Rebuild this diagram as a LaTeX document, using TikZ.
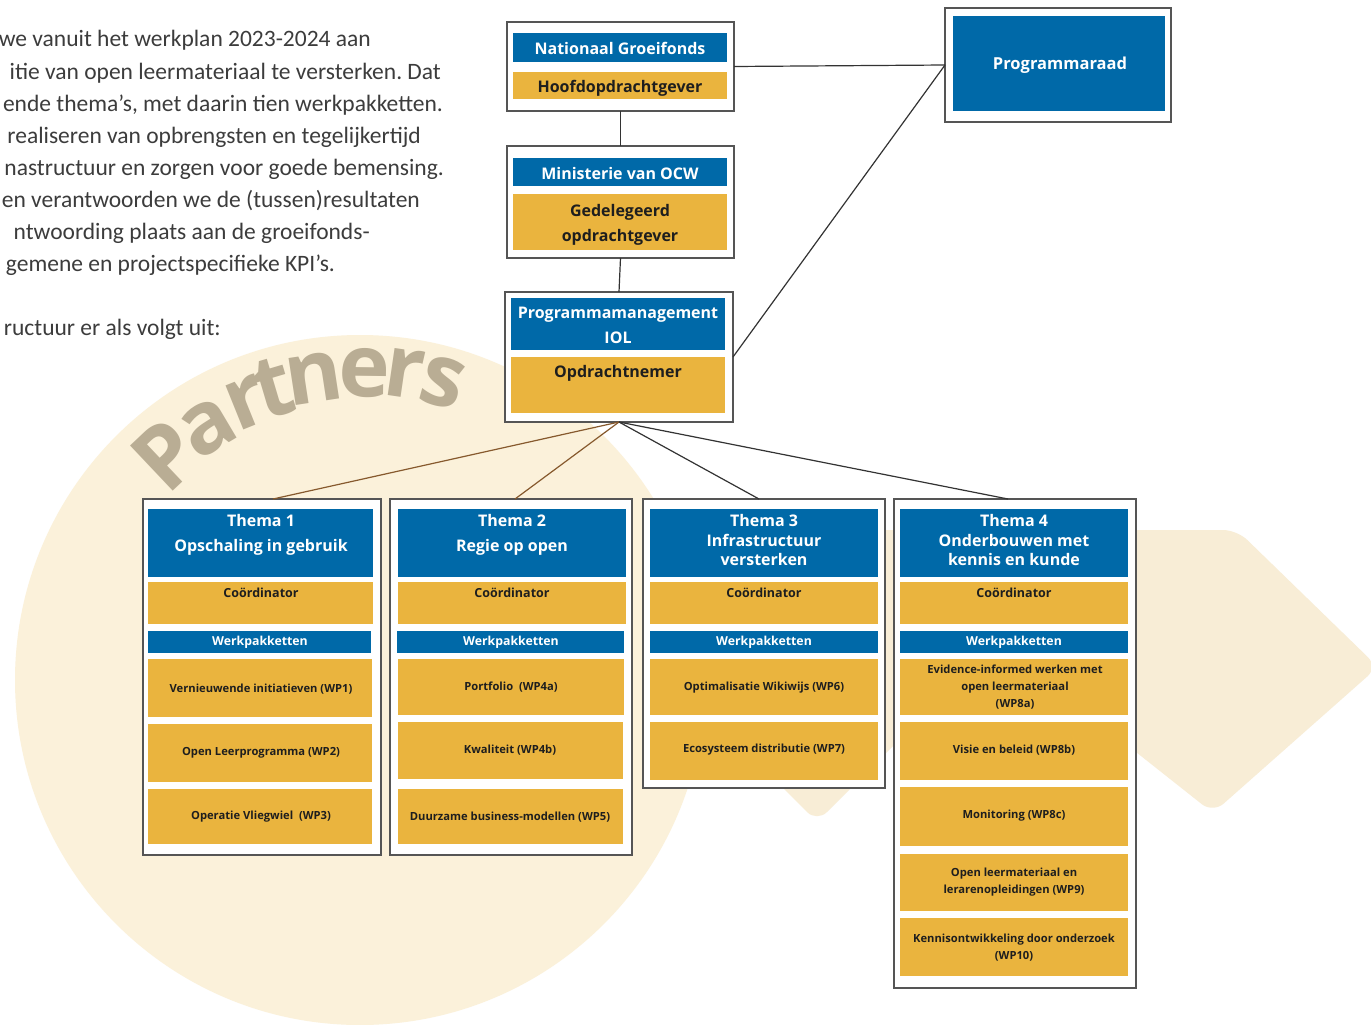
\documentclass[tikz,border=0pt]{standalone}
\usepackage{fontspec}
\setmainfont{Open Sans}
\newfontfamily\bodyfont{Carlito}
\frenchspacing
\usetikzlibrary{calc}
\definecolor{iolblue}{HTML}{0069A8}
\definecolor{iolgold}{HTML}{EAB43E}
\definecolor{cream}{HTML}{FBF1DA}
\definecolor{creamarrow}{HTML}{F8EDD6}
\definecolor{partnerc}{HTML}{B9AD94}
\definecolor{bodytext}{HTML}{3C3C3C}
\definecolor{framec}{HTML}{555555}
\definecolor{labelc}{HTML}{1E1E1E}
\newcommand\rect[6]{\node[#2, anchor=north west, minimum width={(#5)-(#3)}, minimum height={(#6)-(#4)}] (#1) at (#3,#4) {};}
\tikzset{
  framebox/.style={draw=framec, line width=1.4pt, fill=white, inner sep=0pt, outer sep=0pt},
  bluebox/.style={fill=iolblue, inner sep=0pt, outer sep=0pt},
  goldbox/.style={fill=iolgold, inner sep=0pt, outer sep=0pt},
  lbl/.style={inner sep=0pt, align=center},
  wtop/.style={lbl, text=white, font=\bfseries\fontsize{16}{25}\selectfont},
  btop/.style={lbl, text=labelc, font=\bfseries\fontsize{16}{25}\selectfont},
  wthema/.style={lbl, text=white, font=\bfseries\fontsize{16}{19.5}\selectfont},
  wthemawide/.style={lbl, text=white, font=\bfseries\fontsize{16}{25}\selectfont},
  coord/.style={lbl, text=labelc, font=\bfseries\fontsize{12.5}{16}\selectfont},
  werk/.style={lbl, text=white, font=\bfseries\fontsize{12.3}{15}\selectfont},
  wp/.style={lbl, text=labelc, font=\bfseries\fontsize{11.2}{17}\selectfont},
  body/.style={inner sep=0pt, text=bodytext, font=\bodyfont\fontsize{23.5}{32}\selectfont, anchor=base east},
  pletter/.style={inner sep=0pt, text=partnerc, font=\bfseries\fontsize{87}{87}\selectfont},
  conn/.style={draw=black!80, line width=1.2pt},
  connb/.style={draw=brown!70!black, line width=1.2pt},
}
\begin{document}
\begin{tikzpicture}[x=1pt, y=-1pt]
\useasboundingbox (0,0) rectangle (1371,1025);
\clip (0,0) rectangle (1371,1025);
\fill[white] (0,0) rectangle (1371,1025);
% background shapes
\fill[creamarrow, rounded corners=14pt] (640,530) -- (1237,530) -- (1378,667) -- (1213,813) -- (997,642) -- (817,822) -- (660,665) -- cycle;
\fill[cream] (360,680) circle[radius=345pt];
% curved word
\node[pletter, rotate=43.4] (pl1) at (166,455) {P};
\node[pletter, rotate=30.7] (pl2) at (208,428) {a};
\node[pletter, rotate=22] (pl3) at (247,403) {r};
\node[pletter, rotate=16.6] (pl4) at (273,388) {t};
\node[pletter, rotate=8.7] (pl5) at (314,378) {n};
\node[pletter, rotate=-0.7] (pl6) at (364,373) {e};
\node[pletter, rotate=-8.3] (pl7) at (405,373) {r};
\node[pletter, rotate=-15.6] (pl8) at (443,382) {s};
% body text
\node[body] (l1) at (371,47) {we vanuit het werkplan 2023-2024 aan};
\node[body] (l2) at (441,79) {itie van open leermateriaal te versterken. Dat};
\node[body] (l3) at (443,111) {ende thema’s, met daarin tien werkpakketten.};
\node[body] (l4) at (421,143) {realiseren van opbrengsten en tegelijkertijd};
\node[body] (l5) at (444,175) {nastructuur en zorgen voor goede bemensing.};
\node[body] (l6) at (420,207) {en verantwoorden we de (tussen)resultaten};
\node[body] (l7) at (370,239) {ntwoording plaats aan de groeifonds-};
\node[body] (l8) at (335,271) {gemene en projectspecifieke KPI’s.};
\node[body] (l9) at (221,335) {ructuur er als volgt uit:};
% top boxes
\rect{ngfo}{framebox}{507}{22}{734}{111}
\rect{ngfb}{bluebox}{513}{33}{727}{62}
\rect{ngfg}{goldbox}{513}{72}{727}{99}
\node[wtop] (ngft) at (620,48.5) {Nationaal Groeifonds};
\node[btop] (hogt) at (620,88) {Hoofdopdrachtgever};
\rect{ocwo}{framebox}{507}{146}{734}{258}
\rect{ocwb}{bluebox}{513}{158}{727}{186}
\rect{ocwg}{goldbox}{513}{194}{727}{250}
\node[wtop] (ocwt) at (620,173) {Ministerie van OCW};
\node[btop] (gdot) at (620,224.5) {Gedelegeerd\\opdrachtgever};
\rect{pmo}{framebox}{505}{292}{733}{422}
\rect{pmb}{bluebox}{511}{298}{725}{350}
\rect{pmg}{goldbox}{511}{357}{725}{413}
\node[wtop] (pmt) at (618,325.5) {Programmamanagement\\IOL};
\node[btop] (ont) at (618,373) {Opdrachtnemer};
\rect{pro}{framebox}{945}{8}{1171}{122}
\rect{prb}{bluebox}{953}{16}{1165}{111}
\node[wtop, font=\bfseries\fontsize{16.5}{20}\selectfont] (prt) at (1060,65) {Programmaraad};
% connectors top
\draw[conn] (ngfo.south) -- (ocwo.north);
\draw[conn] (ocwo.south) -- (pmo.north);
\draw[conn] (ngfo.east) -- (pro.west);
\draw[conn] (pmo.east) -- (pro.west);
% themes
\rect{t1o}{framebox}{143}{499}{381}{855}
\rect{t1b}{bluebox}{148}{509}{373}{577}
\rect{t1c}{goldbox}{148}{582}{373}{624}
\rect{t1w}{bluebox}{148}{631}{371}{653}
\rect{wp1}{goldbox}{148}{659}{372}{717}
\rect{wp2}{goldbox}{148}{724}{372}{782}
\rect{wp3}{goldbox}{148}{789}{372}{844}
\rect{t2o}{framebox}{390}{499}{632}{855}
\rect{t2b}{bluebox}{398}{509}{626}{577}
\rect{t2c}{goldbox}{398}{582}{626}{624}
\rect{t2w}{bluebox}{397}{631}{624}{653}
\rect{wp4a}{goldbox}{398}{659}{624}{715}
\rect{wp4b}{goldbox}{398}{722}{623}{779}
\rect{wp5}{goldbox}{398}{789}{623}{844}
\rect{t3o}{framebox}{643}{499}{885}{788}
\rect{t3b}{bluebox}{650}{509}{878}{577}
\rect{t3c}{goldbox}{650}{582}{878}{624}
\rect{t3w}{bluebox}{650}{631}{878}{653}
\rect{wp6}{goldbox}{650}{659}{878}{715}
\rect{wp7}{goldbox}{650}{722}{878}{780}
\rect{t4o}{framebox}{894}{499}{1136}{988}
\rect{t4b}{bluebox}{900}{509}{1128}{577}
\rect{t4c}{goldbox}{900}{582}{1128}{624}
\rect{t4w}{bluebox}{900}{631}{1128}{653}
\rect{wp8a}{goldbox}{900}{659}{1128}{715}
\rect{wp8b}{goldbox}{900}{722}{1128}{780}
\rect{wp8c}{goldbox}{900}{787}{1128}{846}
\rect{wp9}{goldbox}{900}{854}{1128}{911}
\rect{wp10}{goldbox}{900}{918}{1128}{976}
% theme connectors
\draw[connb] (pmo.south) -- ([xshift=11pt]t1o.north);
\draw[connb] (pmo.south) -- ([xshift=4pt]t2o.north);
\draw[conn] (pmo.south) -- ([xshift=-5pt]t3o.north);
\draw[conn] (pmo.south) -- ([xshift=-7pt]t4o.north);
% theme texts
\node[wthemawide] (t1t) at (261,534.5) {Thema 1\\Opschaling in gebruik};
\node[wthemawide] (t2t) at (512,534.5) {Thema 2\\Regie op open};
\node[wthema] (t3t) at (764,540) {Thema 3\\Infrastructuur\\versterken};
\node[wthema] (t4t) at (1014,540) {Thema 4\\Onderbouwen met\\kennis en kunde};
\node[coord] (c1t) at (261,593) {Coördinator};
\node[coord] (c2t) at (512,593) {Coördinator};
\node[coord] (c3t) at (764,593) {Coördinator};
\node[coord] (c4t) at (1014,593) {Coördinator};
\node[werk] (w1t) at (260,642) {Werkpakketten};
\node[werk] (w2t) at (511,642) {Werkpakketten};
\node[werk] (w3t) at (764,642) {Werkpakketten};
\node[werk] (w4t) at (1014,642) {Werkpakketten};
\node[wp] (wp1t) at (261,689) {Vernieuwende initiatieven (WP1)};
\node[wp] (wp2t) at (261,753) {Open Leerprogramma (WP2)};
\node[wp] (wp3t) at (261,817) {Operatie Vliegwiel\ \ (WP3)};
\node[wp] (wp4at) at (511,687) {Portfolio\ \ (WP4a)};
\node[wp] (wp4bt) at (510,750) {Kwaliteit (WP4b)};
\node[wp] (wp5t) at (510,817) {Duurzame business-modellen (WP5)};
\node[wp] (wp6t) at (764,688) {Optimalisatie Wikiwijs (WP6)};
\node[wp] (wp7t) at (764,750) {Ecosysteem distributie (WP7)};
\node[wp] (wp8at) at (1015,687) {Evidence-informed werken met\\open leermateriaal\\(WP8a)};
\node[wp] (wp8bt) at (1014,750) {Visie en beleid (WP8b)};
\node[wp] (wp8ct) at (1014,816) {Monitoring (WP8c)};
\node[wp] (wp9t) at (1014,882.5) {Open leermateriaal en\\lerarenopleidingen (WP9)};
\node[wp] (wp10t) at (1014,947.5) {Kennisontwikkeling door onderzoek\\(WP10)};
\end{tikzpicture}
\end{document}
